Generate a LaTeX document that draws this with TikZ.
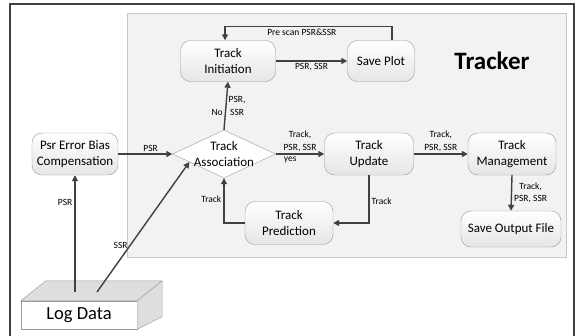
\documentclass[tikz,border=0pt]{standalone}
\usepackage{fontspec}
\setmainfont{Carlito}
\usetikzlibrary{arrows.meta, positioning, calc, shapes.geometric}
\definecolor{FrameGray}{rgb}{0.25, 0.25, 0.25}
\definecolor{PanelGray}{rgb}{0.95, 0.95, 0.95}
\definecolor{PanelLine}{rgb}{0.78, 0.78, 0.78}
\definecolor{BoxLine}{rgb}{0.60, 0.60, 0.60}
\definecolor{BoxShade}{rgb}{0.90, 0.90, 0.90}
\definecolor{TopGray}{rgb}{0.87, 0.87, 0.87}
\definecolor{ArrowGray}{rgb}{0.25, 0.25, 0.25}
\tikzset{
  procbox/.style={draw=BoxLine, rounded corners=10pt, top color=white, bottom color=BoxShade,
                  align=center, inner sep=0pt, font=\fontsize{13}{15.5}\selectfont},
  flow/.style={draw=ArrowGray, line width=1.4pt, -{Triangle[length=6pt,width=6pt]}},
  lbl/.style={font=\fontsize{9.5}{12.5}\selectfont, inner sep=2pt, align=center},
}
\newcommand{\block}[6]{% name, x, y, width, height, text
  \node[procbox, minimum width=#4pt, minimum height=#5pt] (#1) at (#2,#3) {#6};
}

\begin{document}
\begin{tikzpicture}[x=1pt, y=-1pt]
\useasboundingbox (0,0) rectangle (581,335);
\clip (0,0) rectangle (581,335);

\draw[FrameGray, line width=1.2pt] (10,4) rectangle (574,350);
\draw[draw=PanelLine, fill=PanelGray] (127,13) rectangle (566,257);

\node[font=\fontsize{25}{28}\selectfont\bfseries] (title) at (492,61) {Tracker};

\block{init}{228}{61}{95}{41}{Track\\Initiation}
\block{plot}{381}{61}{67}{41}{Save Plot}
\block{psr}{75}{154}{86}{42}{Psr Error Bias\\Compensation}
\block{update}{369}{154}{89}{42}{Track\\Update}
\block{mgmt}{512}{154}{88}{42}{Track\\Management}
\block{pred}{289}{223}{88}{43}{Track\\Prediction}
\block{output}{511}{229}{100}{36}{Save Output File}

\node[diamond, draw=BoxLine, fill=white, minimum width=103pt, minimum height=48pt, inner sep=0pt] (assoc) at (224,154) {};
\node[align=center, font=\fontsize{13}{15.5}\selectfont] (assoctext) at (assoc) {Track\\Association};

\node[draw=BoxLine, fill=white, minimum width=116pt, minimum height=28pt, inner sep=0pt,
      font=\fontsize{18.5}{21}\selectfont] (log) at (79,315) {Log Data};
\draw[draw=BoxLine, fill=TopGray] (log.north west) -- ++(25,-20) -- ++(116,0) -- (log.north east) -- cycle;
\draw[draw=BoxLine, fill=TopGray] (log.north east) -- ++(25,-20) -- ++(0,36) -- (log.south east) -- cycle;
\coordinate (logpsr) at (75,292);
\coordinate (logssr) at (97,292);

\draw[flow] (init.east) -- node[lbl, below, pos=0.5] {PSR, SSR} (plot.west);
\draw[flow] ([xshift=11pt]plot.north) -- ++(0,-14) -| node[lbl, below, pos=0.27] {Pre scan PSR\&SSR} ([xshift=-3pt]init.north);
\draw[flow] (assoc.north) -- node[lbl, left, pos=0.35] {No} node[lbl, right, pos=0.5] {PSR,\\SSR} (init.south);
\draw[flow] (psr.east) -- node[lbl, above, pos=0.6] {PSR} (assoc.west);
\draw[flow] (assoc.east) -- node[lbl, above] {Track,\\PSR, SSR} node[lbl, below, pos=0.3] {yes} (update.west);
\draw[flow] (update.east) -- node[lbl, above] {Track,\\PSR, SSR} (mgmt.west);
\draw[flow] (mgmt.south) -- node[lbl, right] {Track,\\PSR, SSR} (output.north);
\draw[flow] (update.south) |- node[lbl, right, pos=0.27] {Track} (pred.east);
\draw[flow] (pred.west) -| node[lbl, left, pos=0.77] {Track} (assoc.south);
\draw[flow] (logpsr) -- node[lbl, left, pos=0.77] {PSR} (psr.south);
\draw[flow] (logssr) -- node[lbl, left, pos=0.36] {SSR} (assoc.193);

\end{tikzpicture}
\end{document}
